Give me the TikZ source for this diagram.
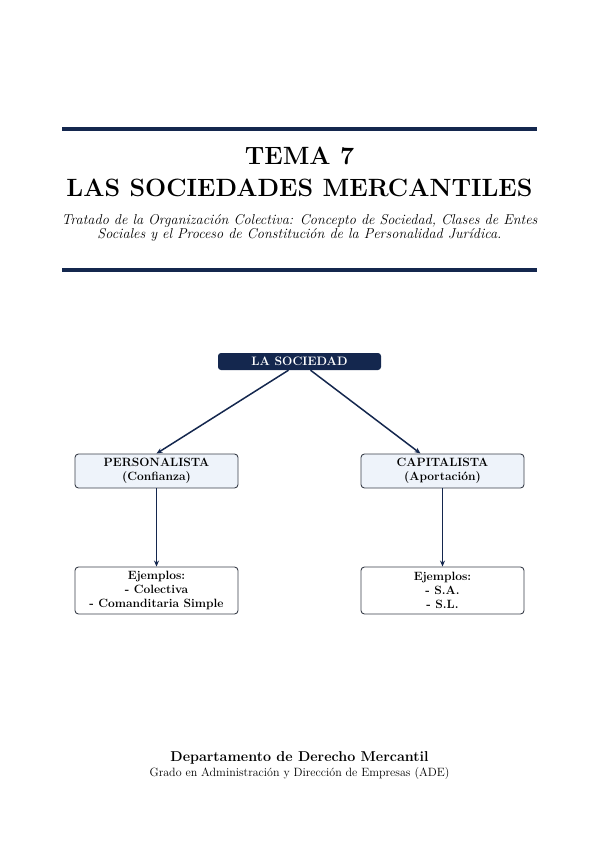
\documentclass[tikz,border=0pt]{standalone}
\usetikzlibrary{arrows.meta}
\definecolor{navy}{HTML}{14274E}
\definecolor{boxfill}{HTML}{EEF3FA}
\definecolor{boxline}{HTML}{3A3F4A}
\begin{document}
\begin{tikzpicture}[x=1pt,y=-1pt,
  rulebar/.style={navy,line width=4pt},
  topbox/.style={fill=navy,rounded corners=3pt,minimum width=163pt,minimum height=17pt,inner sep=0pt,text=white,font=\bfseries\fontsize{12.2}{13}\selectfont},
  catbox/.style={fill=boxfill,draw=boxline,line width=0.9pt,rounded corners=3.5pt,minimum width=163pt,minimum height=34pt,inner sep=0pt,align=center,font=\bfseries\fontsize{12}{14.5}\selectfont},
  exbox/.style={fill=white,draw=boxline,line width=0.9pt,rounded corners=3.5pt,minimum width=163pt,minimum height=47pt,inner sep=0pt,align=center,font=\bfseries\fontsize{12}{14}\selectfont},
  conn/.style={navy,line width=1.5pt,-{Stealth[length=6pt,width=5pt]}}]
\useasboundingbox (0,0) rectangle (599,848);
\coordinate (r1a) at (62,129); \coordinate (r1b) at (537,129);
\coordinate (r2a) at (62,270); \coordinate (r2b) at (537,270);
\draw[rulebar] (r1a) -- (r1b);
\draw[rulebar] (r2a) -- (r2b);
\node[font=\bfseries\fontsize{25}{28}\selectfont] (t1) at (299.5,156) {TEMA 7};
\node[font=\bfseries\fontsize{25}{28}\selectfont] (t2) at (299.5,188) {LAS SOCIEDADES MERCANTILES};
\node[font=\itshape\fontsize{14.3}{13.5}\selectfont,align=center] (sub) at (299.5,228) {Tratado de la Organización Colectiva: Concepto de Sociedad, Clases de Entes\\Sociales y el Proceso de Constitución de la Personalidad Jurídica.};
\node[topbox] (soc) at (299.5,361.5) {LA SOCIEDAD};
\node[catbox] (per) at (156.5,471) {PERSONALISTA\\(Confianza)};
\node[catbox] (cap) at (442.5,471) {CAPITALISTA\\(Aportación)};
\node[exbox] (exl) at (156.5,590.5) {Ejemplos:\\- Colectiva\\- Comanditaria Simple};
\node[exbox] (exr) at (442.5,590.5) {Ejemplos:\\- S.A.\\- S.L.};
\draw[conn] ([xshift=-11pt]soc.south) -- (per.north);
\draw[conn] ([xshift=11pt]soc.south) -- ([xshift=-22pt]cap.north);
\draw[conn] (per.south) -- (exl.north);
\draw[conn] (cap.south) -- (exr.north);
\node[font=\bfseries\fontsize{14.3}{16}\selectfont] (dep) at (299.5,758) {Departamento de Derecho Mercantil};
\node[font=\fontsize{12}{13}\selectfont] (gra) at (299.5,773) {Grado en Administración y Dirección de Empresas (ADE)};
\end{tikzpicture}
\end{document}
